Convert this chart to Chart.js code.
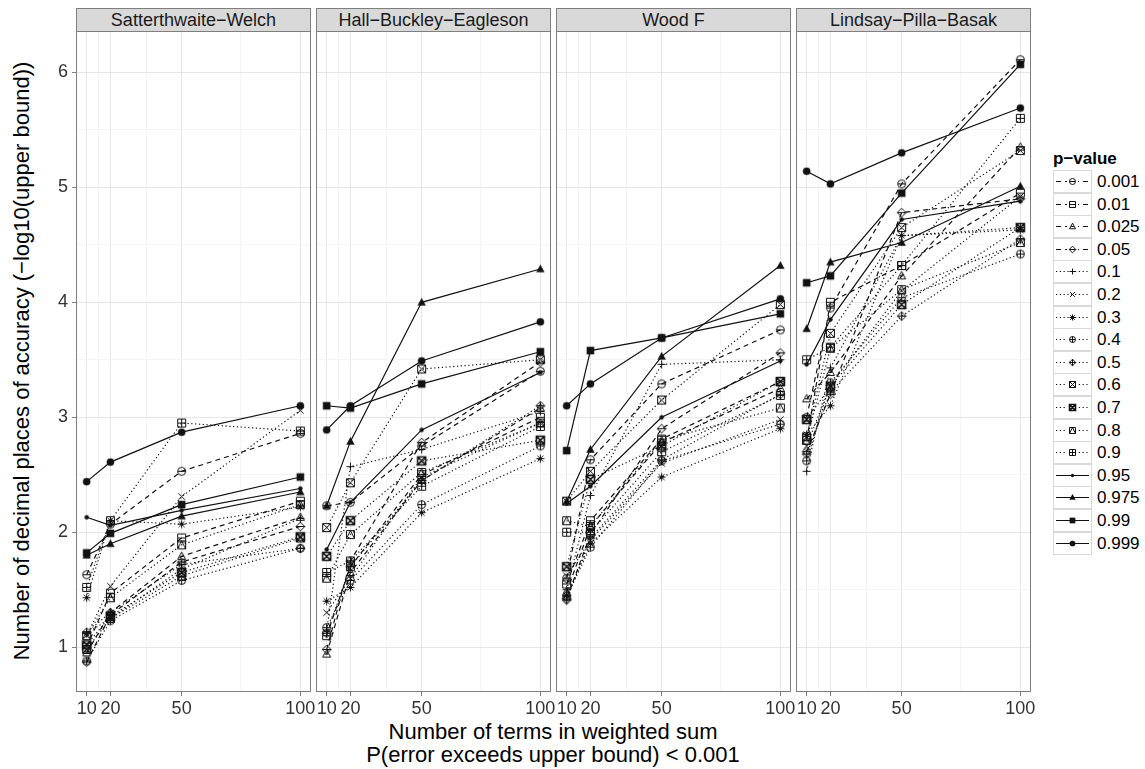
<!DOCTYPE html>
<html><head><meta charset="utf-8">
<script src="https://cdn.jsdelivr.net/npm/chart.js@4"></script>
<style>
body{margin:0;background:#fff;width:1145px;height:769px;overflow:hidden;position:relative;font-family:'Liberation Sans',Arial,sans-serif;}
.strip{position:absolute;top:8px;height:24px;width:235px;background:#d9d9d9;border:1px solid #7f7f7f;box-sizing:border-box;text-align:center;font-size:18px;line-height:22px;color:#1a1a1a}
.panel{position:absolute;top:31px;height:691px}
.ytitle{position:absolute;left:-328px;top:349px;width:700px;height:24px;line-height:24px;text-align:center;font-size:22px;transform:rotate(-90deg);color:#000}
.xtitle{position:absolute;left:203px;width:700px;top:720px;text-align:center;font-size:22px;line-height:23px;color:#000}
.ltitle{position:absolute;left:1053px;top:149px;font-size:17px;font-weight:bold;color:#000}
.lkey{position:absolute;left:1053px;width:39px;height:23px;box-sizing:border-box;border:1px solid #d9d9d9;background:#fff}
.ltext{position:absolute;left:1097px;font-size:17px;line-height:23px;color:#000}
</style>
</head><body>
<script>
// ---------------- data ----------------
const xTerms = [10, 20, 50, 100];
const xGrid = [10, 15, 20, 35, 50, 75, 100];
const yGrid = [1, 1.5, 2, 2.5, 3, 3.5, 4, 4.5, 5, 5.5, 6];
const methods = ['Satterthwaite−Welch', 'Hall−Buckley−Eagleson', 'Wood F', 'Lindsay−Pilla−Basak'];
const pValues = ['0.001','0.01','0.025','0.05','0.1','0.2','0.3','0.4','0.5','0.6','0.7','0.8','0.9','0.95','0.975','0.99','0.999'];

// rows follow pValues order; columns follow xTerms
const satterthwaiteWelch = [
  [1.63, 2.07, 2.53, 2.86],
  [1.00, 1.47, 1.95, 2.27],
  [0.95, 1.30, 1.79, 2.13],
  [0.87, 1.28, 1.74, 2.05],
  [1.12, 1.25, 1.68, 2.12],
  [1.10, 1.53, 2.31, 3.06],
  [1.43, 2.10, 2.07, 2.22],
  [0.88, 1.23, 1.58, 1.86],
  [1.13, 1.30, 1.72, 1.86],
  [0.98, 1.25, 1.62, 1.95],
  [1.02, 1.27, 1.65, 1.96],
  [1.10, 1.43, 1.89, 2.24],
  [1.52, 2.10, 2.95, 2.88],
  [2.13, 2.06, 2.19, 2.38],
  [1.80, 1.90, 2.14, 2.35],
  [1.82, 1.99, 2.24, 2.48],
  [2.44, 2.61, 2.87, 3.10]
];
const hallBuckleyEagleson = [
  [2.23, 2.26, 2.75, 3.40],
  [1.10, 1.70, 2.50, 3.00],
  [0.94, 1.65, 2.45, 3.08],
  [0.98, 1.75, 2.78, 3.48],
  [1.15, 2.57, 2.72, 3.05],
  [1.30, 1.60, 2.48, 2.95],
  [1.40, 1.52, 2.17, 2.64],
  [1.17, 1.58, 2.24, 2.75],
  [1.12, 1.70, 2.45, 3.10],
  [2.04, 2.43, 3.42, 3.50],
  [1.79, 2.10, 2.62, 2.80],
  [1.60, 1.98, 2.52, 2.95],
  [1.65, 1.75, 2.40, 2.92],
  [1.85, 2.26, 2.89, 3.39],
  [2.23, 2.79, 4.00, 4.29],
  [3.10, 3.08, 3.29, 3.57],
  [2.89, 3.10, 3.49, 3.83]
];
const woodF = [
  [1.60, 2.63, 3.29, 3.76],
  [1.55, 2.10, 2.81, 3.31],
  [1.48, 2.05, 2.78, 3.25],
  [1.42, 1.98, 2.90, 3.56],
  [1.50, 2.32, 3.46, 3.50],
  [1.62, 1.93, 2.60, 2.98],
  [1.45, 1.90, 2.48, 2.90],
  [1.44, 1.87, 2.62, 2.94],
  [1.41, 1.95, 2.63, 3.20],
  [2.27, 2.53, 3.15, 3.98],
  [1.70, 2.46, 2.75, 3.31],
  [2.10, 2.05, 2.80, 3.08],
  [2.00, 2.00, 2.70, 3.19],
  [2.25, 2.40, 3.00, 3.49],
  [2.27, 2.72, 3.53, 4.32],
  [2.71, 3.58, 3.69, 3.90],
  [3.10, 3.29, 3.69, 4.03]
];
const lindsayPillaBasak = [
  [3.00, 3.95, 5.03, 6.11],
  [2.80, 4.00, 4.32, 4.95],
  [3.16, 3.39, 4.23, 5.35],
  [2.70, 3.20, 4.78, 4.90],
  [2.53, 3.43, 4.58, 4.65],
  [2.75, 3.28, 4.10, 4.92],
  [2.85, 3.10, 4.58, 4.63],
  [2.62, 3.30, 4.04, 4.42],
  [2.68, 3.22, 3.88, 4.55],
  [2.83, 3.73, 4.65, 5.32],
  [2.98, 3.27, 3.98, 4.65],
  [2.80, 3.60, 4.11, 4.52],
  [3.50, 3.61, 4.32, 5.60],
  [3.46, 3.85, 4.72, 4.88],
  [3.77, 4.35, 4.52, 5.01],
  [4.17, 4.23, 4.95, 6.07],
  [5.14, 5.03, 5.30, 5.69]
];
const panelValues = [satterthwaiteWelch, hallBuckleyEagleson, woodF, lindsayPillaBasak];

// ---------------- styles ----------------
const shapeTypes = ['circleBar','squareBar','triBar','diamondBar','plus','cross','asterisk','circlePlus','diamondPlus','squareX','squareXBold','squareTri','squarePlus','dot','fTri','fSquare','fCircle'];
const lineTypes = ['dash','dash','dash','dash','dot','dot','dot','dot','dot','dot','dot','dot','dot','solid','solid','solid','solid'];
const dashFor = t => t === 'dash' ? [5, 4] : t === 'dot' ? [1.2, 2.6] : [];
const FONT = "'Liberation Sans', Arial, sans-serif";
const panelLefts = [76, 316, 556, 796];
const PW = 235;

function drawShape(g, type, cx, cy, r) {
  g.beginPath();
  const sq = () => g.rect(cx - r, cy - r, 2 * r, 2 * r);
  const hbar = () => { g.moveTo(cx - r, cy); g.lineTo(cx + r, cy); };
  const vbar = () => { g.moveTo(cx, cy - r); g.lineTo(cx, cy + r); };
  const xx = (k) => { g.moveTo(cx - k, cy - k); g.lineTo(cx + k, cy + k); g.moveTo(cx - k, cy + k); g.lineTo(cx + k, cy - k); };
  const tri = (rr) => { g.moveTo(cx, cy - rr * 1.1); g.lineTo(cx + rr, cy + rr * 0.75); g.lineTo(cx - rr, cy + rr * 0.75); g.closePath(); };
  const dia = (rr) => { g.moveTo(cx, cy - rr); g.lineTo(cx + rr, cy); g.lineTo(cx, cy + rr); g.lineTo(cx - rr, cy); g.closePath(); };
  switch (type) {
    case 'circleBar': g.arc(cx, cy, r, 0, 2 * Math.PI); hbar(); g.stroke(); break;
    case 'squareBar': sq(); hbar(); g.stroke(); break;
    case 'triBar': tri(r); g.moveTo(cx - r * 0.45, cy); g.lineTo(cx + r * 0.45, cy); g.stroke(); break;
    case 'diamondBar': dia(r * 1.1); g.moveTo(cx - r * 1.1, cy); g.lineTo(cx + r * 1.1, cy); g.stroke(); break;
    case 'plus': hbar(); vbar(); g.stroke(); break;
    case 'cross': xx(r * 0.8); g.stroke(); break;
    case 'asterisk': hbar(); vbar(); xx(r * 0.75); g.stroke(); break;
    case 'circlePlus': g.arc(cx, cy, r, 0, 2 * Math.PI); hbar(); vbar(); g.stroke(); break;
    case 'diamondPlus': dia(r * 1.1); g.moveTo(cx - r * 1.1, cy); g.lineTo(cx + r * 1.1, cy); g.moveTo(cx, cy - r * 1.1); g.lineTo(cx, cy + r * 1.1); g.stroke(); break;
    case 'squareX': sq(); xx(r); g.stroke(); break;
    case 'squareXBold': sq(); xx(r); g.lineWidth = 1.6; g.stroke(); break;
    case 'squareTri': sq(); g.moveTo(cx - r, cy + r); g.lineTo(cx, cy - r); g.lineTo(cx + r, cy + r); g.stroke(); break;
    case 'squarePlus': sq(); hbar(); vbar(); g.stroke(); break;
    case 'dot': g.arc(cx, cy, r * 0.55, 0, 2 * Math.PI); g.fill(); break;
    case 'fTri': tri(r * 1.05); g.fill(); break;
    case 'fSquare': g.rect(cx - r * 0.95, cy - r * 0.95, 1.9 * r, 1.9 * r); g.fill(); break;
    case 'fCircle': g.arc(cx, cy, r * 0.95, 0, 2 * Math.PI); g.fill(); break;
  }
}
function makeShape(type, r) {
  const S = 13;
  const c = document.createElement('canvas'); c.width = S; c.height = S;
  const g = c.getContext('2d');
  g.strokeStyle = '#111'; g.fillStyle = '#111'; g.lineWidth = 1;
  drawShape(g, type, S / 2, S / 2, r);
  return c;
}
const shapes = shapeTypes.map(t => makeShape(t, 4));

// ---------------- layout text ----------------
function el(cls, text, style) {
  const d = document.createElement('div'); d.className = cls;
  if (text !== null) d.textContent = text;
  Object.assign(d.style, style || {});
  document.body.appendChild(d); return d;
}
el('ytitle', 'Number of decimal places of accuracy (−log10(upper bound))');
const xt = el('xtitle', null);
xt.innerHTML = 'Number of terms in weighted sum<br>P(error exceeds upper bound) &lt; 0.001';
methods.forEach((m, i) => el('strip', m, { left: panelLefts[i] + 'px' }));

// legend
el('ltitle', 'p−value');
pValues.forEach((p, k) => {
  const top = 170 + k * 22.6;
  const key = el('lkey', null, { top: top + 'px' });
  const c = document.createElement('canvas'); c.width = 37; c.height = 21;
  c.style.display = 'block';
  key.appendChild(c);
  const g = c.getContext('2d');
  g.strokeStyle = '#111'; g.fillStyle = '#111'; g.lineWidth = 1.1;
  g.setLineDash(dashFor(lineTypes[k]));
  g.beginPath(); g.moveTo(2, 10.5); g.lineTo(35, 10.5); g.stroke();
  g.setLineDash([]);
  g.fillStyle = '#fff';
  if (!['dot','fTri','fSquare','fCircle','plus','cross','asterisk'].includes(shapeTypes[k])) {
    g.fillRect(13, 6, 11, 9);
  }
  g.fillStyle = '#111'; g.lineWidth = 1;
  drawShape(g, shapeTypes[k], 18.5, 10.5, 3);
  el('ltext', p, { top: top + 'px' });
});

// ---------------- charts ----------------
const borderPlugin = {
  id: 'pborder',
  afterDraw(chart) {
    const { ctx, chartArea: a } = chart;
    ctx.save(); ctx.strokeStyle = '#7f7f7f'; ctx.lineWidth = 1;
    ctx.strokeRect(Math.round(a.left) + 0.5, Math.round(a.top) + 0.5, Math.round(a.right - a.left) - 1, Math.round(a.bottom - a.top) - 1);
    ctx.restore();
  }
};
const isMajorX = v => xTerms.includes(v);
const isMajorY = v => Number.isInteger(v);

panelValues.forEach((vals, idx) => {
  const div = document.createElement('div'); div.className = 'panel';
  div.style.left = (panelLefts[idx] - 76) + 'px';
  div.style.width = (76 + PW + 20) + 'px';
  const cv = document.createElement('canvas'); div.appendChild(cv); document.body.appendChild(div);
  new Chart(cv, {
    type: 'line',
    data: {
      datasets: pValues.map((p, k) => ({
        label: p,
        data: xTerms.map((x, j) => ({ x: x, y: vals[k][j] })),
        borderColor: '#111', backgroundColor: '#111',
        borderWidth: 1.2, borderDash: dashFor(lineTypes[k]),
        pointStyle: shapes[k], pointRadius: 5, pointHoverRadius: 5,
        fill: false, tension: 0
      }))
    },
    options: {
      responsive: true, maintainAspectRatio: false, animation: false, events: [],
      layout: { autoPadding: false, padding: { left: 0, right: 20, top: 0, bottom: 0 } },
      plugins: { legend: { display: false }, tooltip: { enabled: false }, title: { display: false } },
      scales: {
        x: {
          type: 'linear', min: 5.5, max: 104.5,
          afterBuildTicks: s => { s.ticks = xGrid.map(v => ({ value: v })); },
          afterFit: s => { s.height = 30; s.paddingLeft = 0; s.paddingRight = 0; },
          ticks: { autoSkip: false, maxRotation: 0, minRotation: 0, padding: 2,
                   callback: v => isMajorX(v) ? String(v) : '',
                   font: { size: 18, family: FONT }, color: '#333' },
          grid: { color: c => isMajorX(c.tick && c.tick.value) ? '#e6e6e6' : '#f5f5f5', lineWidth: 1,
                  drawTicks: true, tickLength: 4,
                  tickColor: c => isMajorX(c.tick && c.tick.value) ? '#7f7f7f' : 'rgba(0,0,0,0)' },
          border: { display: false }
        },
        y: {
          type: 'linear', min: 0.61, max: 6.36,
          afterBuildTicks: s => { s.ticks = yGrid.map(v => ({ value: v })); },
          afterFit: s => { s.width = 76; s.paddingTop = 0; s.paddingBottom = 0; },
          ticks: { display: idx === 0, autoSkip: false, padding: 4,
                   callback: v => isMajorY(v) ? String(v) : '',
                   font: { size: 18, family: FONT }, color: '#333' },
          grid: { color: c => isMajorY(c.tick && c.tick.value) ? '#e6e6e6' : '#f5f5f5', lineWidth: 1,
                  drawTicks: idx === 0, tickLength: 4,
                  tickColor: c => isMajorY(c.tick && c.tick.value) ? '#7f7f7f' : 'rgba(0,0,0,0)' },
          border: { display: false }
        }
      }
    },
    plugins: [borderPlugin]
  });
});
</script>
</body></html>
